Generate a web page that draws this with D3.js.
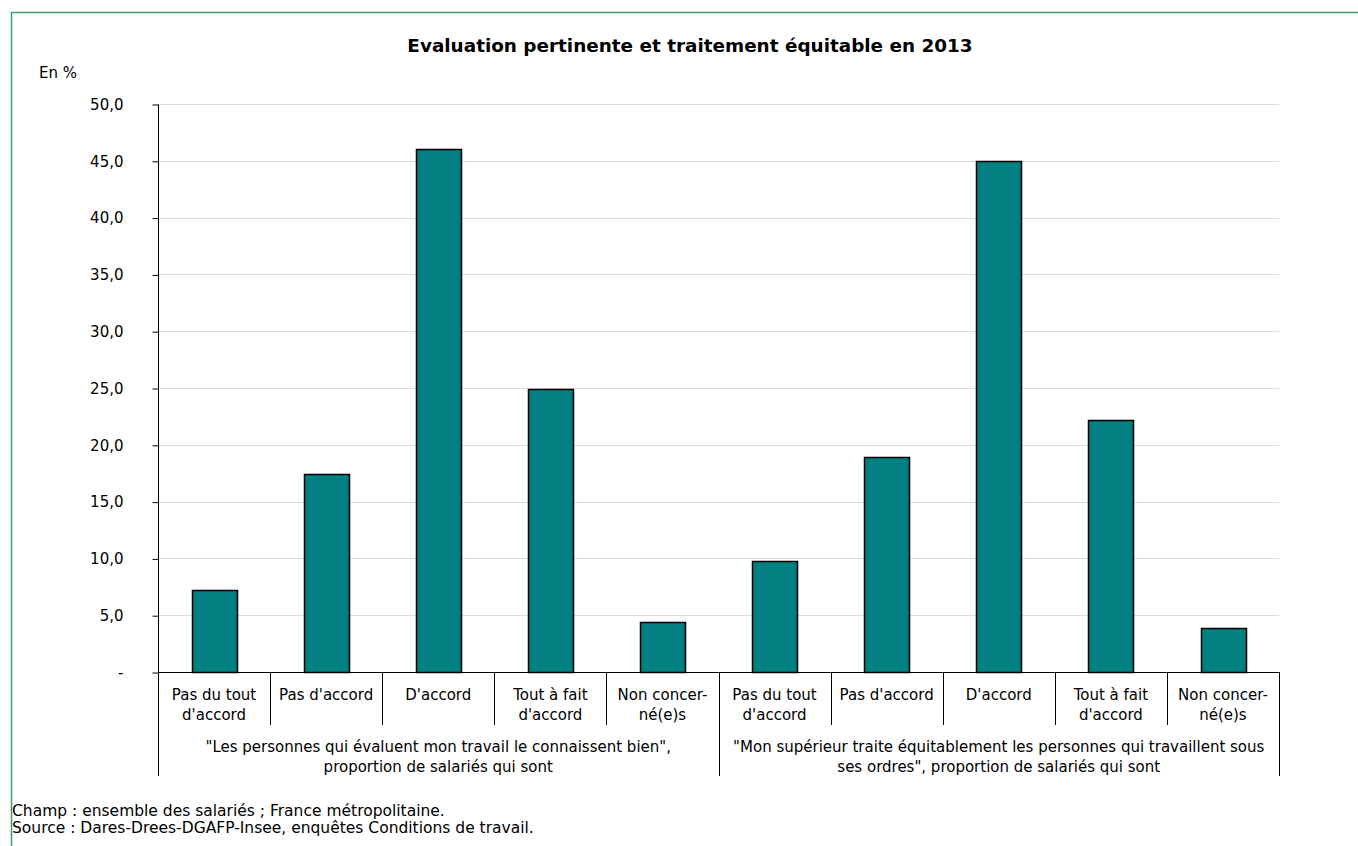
<!DOCTYPE html>
<html>
<head>
<meta charset="utf-8">
<script src="https://cdn.jsdelivr.net/npm/d3@7"></script>
<style>
body { margin: 0; background: #fff; }
svg text { font-family: "DejaVu Sans", Verdana, sans-serif; fill: #000; }
</style>
</head>
<body>
<div id="chart"></div>
<script>
// data
var groups = [
  ["\"Les personnes qui évaluent mon travail le connaissent bien\",", "proportion de salariés qui sont"],
  ["\"Mon supérieur traite équitablement les personnes qui travaillent sous", "ses ordres\", proportion de salariés qui sont"]
];
var categories = [["Pas du tout", "d'accord"], ["Pas d'accord"], ["D'accord"], ["Tout à fait", "d'accord"], ["Non concer-", "né(e)s"]];
var values1 = [7.2, 17.4, 46.0, 24.9, 4.4];
var values2 = [9.8, 18.9, 45.0, 22.2, 3.9];
var yTicks = [0, 5, 10, 15, 20, 25, 30, 35, 40, 45, 50];

var width = 1358, height = 846;
var mLeft = 158, mRight = 1279, mTop = 104, mBottom = 672;
var labelSize = '15px';

var bars = [];
values1.forEach(function (v, i) { bars.push({ g: 0, c: i, value: v }); });
values2.forEach(function (v, i) { bars.push({ g: 1, c: i, value: v }); });

var svg = d3.select('#chart').append('svg')
  .attr('width', width)
  .attr('height', height);

// frame
svg.append('path')
  .attr('d', 'M11.5,846 L11.5,12.5 L1358,12.5')
  .attr('fill', 'none')
  .attr('stroke', '#3f9f6c')
  .attr('stroke-width', 1.5);

svg.append('text')
  .attr('x', 690).attr('y', 52)
  .attr('text-anchor', 'middle')
  .style('font-size', '18.4px').style('font-weight', 'bold')
  .text('Evaluation pertinente et traitement équitable en 2013');

svg.append('text')
  .attr('x', 39).attr('y', 78)
  .style('font-size', labelSize)
  .text('En %');

var y = d3.scaleLinear().domain([0, 50]).range([mBottom, mTop]);
var x = d3.scaleBand()
  .domain(d3.range(bars.length))
  .range([mLeft, mRight])
  .paddingInner(0.6).paddingOuter(0.3);
var xCell = d3.scaleBand().domain(d3.range(bars.length)).range([mLeft, mRight]);

// gridlines
svg.append('g').selectAll('line')
  .data(yTicks.slice(1))
  .enter().append('line')
  .attr('x1', mLeft).attr('x2', mRight)
  .attr('y1', function (d) { return Math.round(y(d)) + 0.5; })
  .attr('y2', function (d) { return Math.round(y(d)) + 0.5; })
  .attr('stroke', '#dcdcdc');

var yAxis = svg.append('g')
  .attr('transform', 'translate(' + (mLeft + 0.5) + ',0.5)')
  .call(d3.axisLeft(y).tickValues(yTicks).tickSize(6).tickPadding(29)
    .tickFormat(function (d) { return d === 0 ? '-' : d3.format('.1f')(d).replace('.', ','); }));
yAxis.select('.domain').attr('d', 'M0,' + Math.round(mTop) + 'V' + Math.round(mBottom));
yAxis.selectAll('text').style('font-size', labelSize).attr('font-family', null);

// bars
svg.append('g').selectAll('rect')
  .data(bars)
  .enter().append('rect')
  .attr('x', function (d, i) { return Math.round(x(i)) + 0.5; })
  .attr('y', function (d) { return Math.round(y(d.value)) + 0.5; })
  .attr('width', Math.round(x.bandwidth()))
  .attr('height', function (d) { return Math.round(y(0)) - Math.round(y(d.value)); })
  .attr('fill', '#008080')
  .attr('stroke', '#000')
  .attr('stroke-width', 1.5);

// category axis
svg.append('line')
  .attr('x1', mLeft).attr('x2', mRight)
  .attr('y1', mBottom + 0.5).attr('y2', mBottom + 0.5)
  .attr('stroke', '#000');

var dividers = d3.range(bars.length + 1).map(function (i) {
  return { pos: i === bars.length ? mRight : xCell(i), long: i % 5 === 0 };
});
svg.append('g').selectAll('line')
  .data(dividers)
  .enter().append('line')
  .attr('x1', function (d) { return Math.round(d.pos) + 0.5; })
  .attr('x2', function (d) { return Math.round(d.pos) + 0.5; })
  .attr('y1', mBottom)
  .attr('y2', function (d) { return d.long ? 776 : 725; })
  .attr('stroke', '#000');

var catLabels = svg.append('g').selectAll('text')
  .data(bars)
  .enter().append('text')
  .attr('x', function (d, i) { return xCell(i) + xCell.bandwidth() / 2; })
  .attr('y', 700)
  .attr('text-anchor', 'middle')
  .style('font-size', labelSize);
catLabels.selectAll('tspan')
  .data(function (d) { return categories[d.c]; })
  .enter().append('tspan')
  .attr('x', function () { return d3.select(this.parentNode).attr('x'); })
  .attr('dy', function (d, i) { return i === 0 ? 0 : 20; })
  .text(function (d) { return d; });

var groupLabels = svg.append('g').selectAll('text')
  .data(groups)
  .enter().append('text')
  .attr('x', function (d, i) { return (xCell(i * 5) + (i === 0 ? xCell(5) : mRight)) / 2; })
  .attr('y', 752)
  .attr('text-anchor', 'middle')
  .style('font-size', labelSize);
groupLabels.selectAll('tspan')
  .data(function (d) { return d; })
  .enter().append('tspan')
  .attr('x', function () { return d3.select(this.parentNode).attr('x'); })
  .attr('dy', function (d, i) { return i === 0 ? 0 : 20; })
  .text(function (d) { return d; });

// notes
svg.append('text').attr('x', 12).attr('y', 816).style('font-size', '15.5px')
  .text('Champ : ensemble des salariés ; France métropolitaine.');
svg.append('text').attr('x', 12).attr('y', 833).style('font-size', '15.5px')
  .text('Source : Dares-Drees-DGAFP-Insee, enquêtes Conditions de travail.');
</script>
</body>
</html>
